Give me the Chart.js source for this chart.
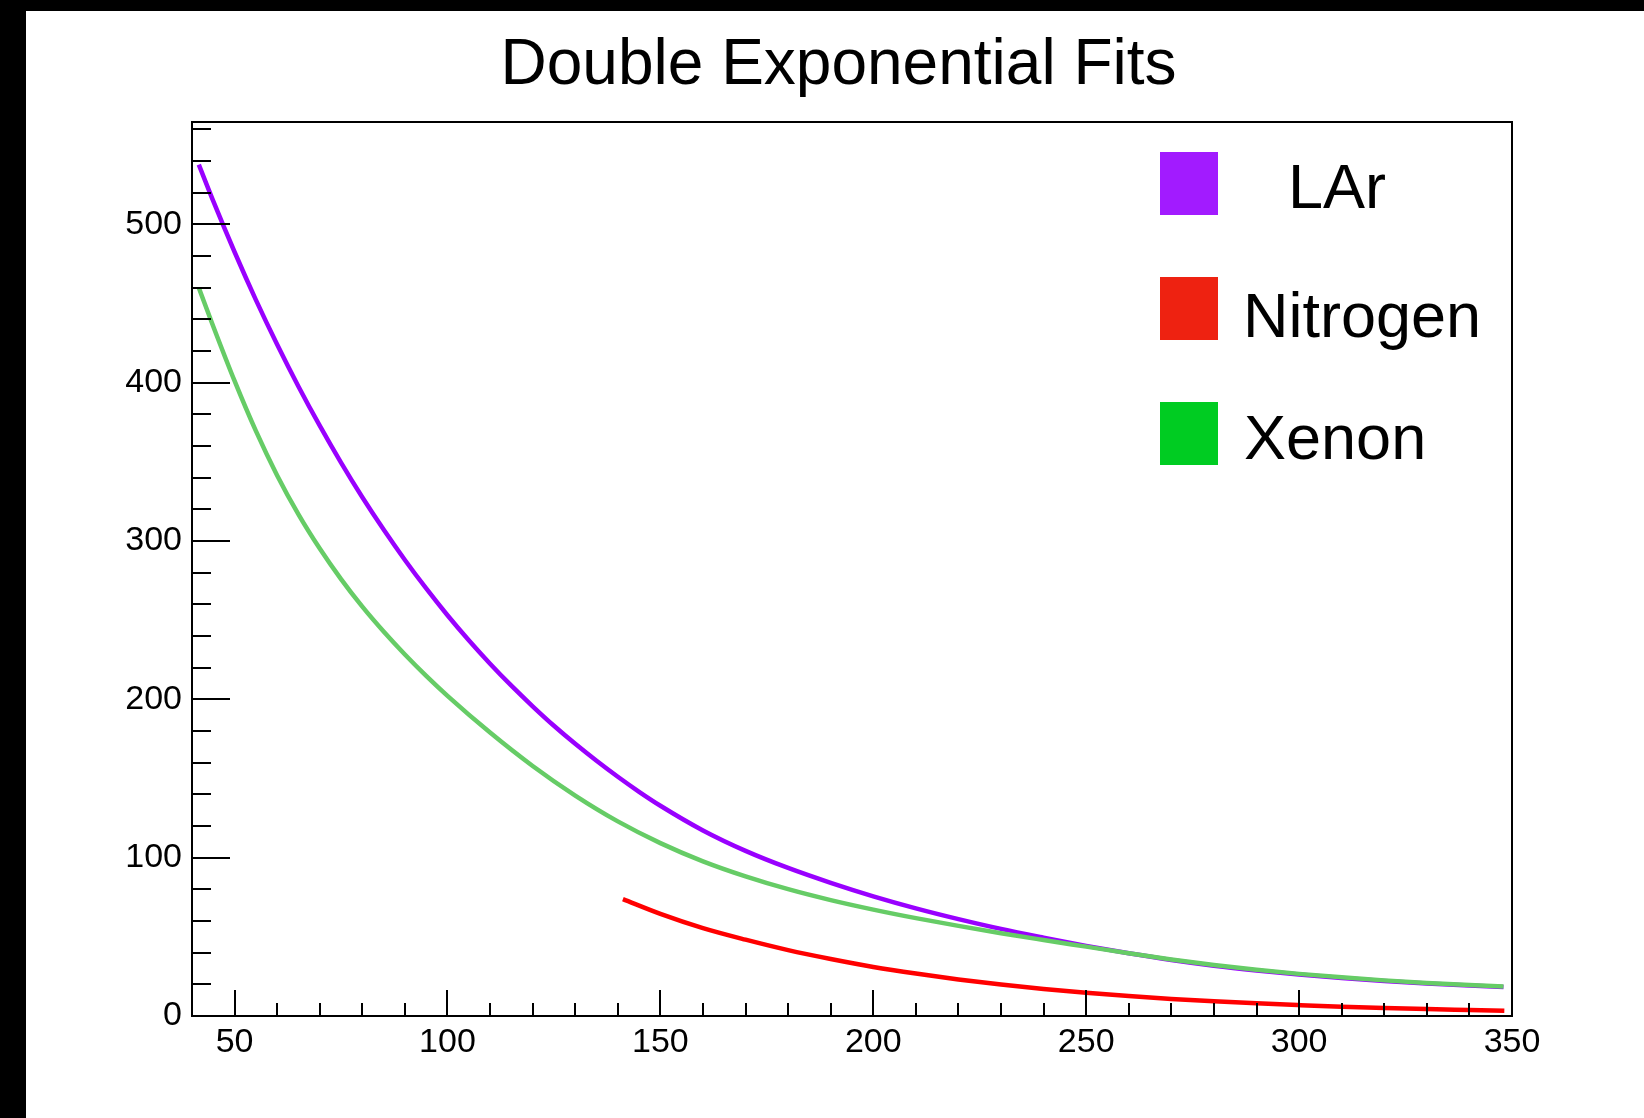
<!DOCTYPE html>
<html><head><meta charset="utf-8">
<script src="https://cdn.jsdelivr.net/npm/chart.js@4.4.0/dist/chart.umd.min.js"></script>
<style>html,body{margin:0;padding:0;background:#fff;overflow:hidden}</style>
</head><body><canvas id="c" width="1644" height="1118"></canvas>
<script>
const chartTitle = 'Double Exponential Fits';
const seriesNames = ['LAr', 'Nitrogen', 'Xenon'];
const lineColors = ['#9900ff', '#ff0000', '#66cc66'];
const legendColors = ['#a21bff', '#ee2211', '#00cc22'];

const xLAr = [41.6, 45, 50, 55, 60, 65, 70, 75, 80, 85, 90, 95, 100, 105, 110, 115, 120, 125, 130, 135, 140, 145, 150, 160, 170, 180, 190, 200, 210, 220, 230, 240, 250, 260, 270, 280, 290, 300, 310, 320, 330, 340, 348];
const yLAr = [537.7, 514.6, 482.5, 452.3, 424.1, 397.6, 372.8, 349.5, 327.6, 307.2, 288.0, 270.0, 253.1, 237.3, 222.5, 208.6, 195.6, 183.3, 171.9, 161.2, 151.1, 141.6, 132.8, 117.2, 104.3, 93.5, 84.1, 75.6, 68.0, 61.2, 55.0, 49.5, 44.3, 39.6, 35.4, 31.8, 28.8, 26.2, 24.0, 22.1, 20.5, 19.2, 18.3];

const xNitrogen = [141.2, 150, 160, 170, 180, 190, 200, 210, 220, 230, 240, 250, 260, 270, 280, 290, 300, 310, 320, 330, 340, 348.2];
const yNitrogen = [73.8, 64.5, 55.5, 48.2, 41.6, 36.0, 31.0, 26.8, 23.1, 19.9, 17.1, 14.7, 12.6, 10.8, 9.3, 8.0, 6.9, 5.9, 5.1, 4.4, 3.8, 3.3];

const xXenon = [41.6, 45, 50, 55, 60, 65, 70, 75, 80, 85, 90, 95, 100, 110, 120, 130, 140, 150, 160, 170, 180, 190, 200, 210, 220, 230, 240, 250, 260, 270, 280, 290, 300, 310, 320, 330, 340, 348];
const yXenon = [459.9, 435.5, 401.1, 369.5, 341.4, 316.8, 295.2, 275.9, 258.5, 242.8, 228.3, 214.8, 202.2, 179.0, 157.9, 139.2, 122.9, 109.2, 97.7, 88.2, 80.1, 73.2, 67.2, 61.8, 56.9, 52.3, 48.0, 43.8, 39.6, 35.7, 32.2, 29.2, 26.6, 24.4, 22.5, 20.9, 19.6, 18.7];

const xTickLabels = [50, 100, 150, 200, 250, 300, 350];
const yTickLabels = [0, 100, 200, 300, 400, 500];
const xRange = [40, 350];
const yRange = [0, 564.6];

const FONT = "'Liberation Sans', Arial, Helvetica, sans-serif";

function pts(xs, ys) { return xs.map((x, i) => ({ x: x, y: ys[i] })); }

const framePlugin = {
  id: 'frame',
  beforeDraw(chart) {
    const ctx = chart.ctx;
    ctx.save();
    ctx.fillStyle = '#fff';
    ctx.fillRect(0, 0, chart.width, chart.height);
    ctx.fillStyle = '#000';
    ctx.fillRect(0, 0, 26, chart.height);
    ctx.fillRect(0, 0, chart.width, 11);
    ctx.restore();
  },
  afterDatasetsDraw(chart) {
    const ctx = chart.ctx, a = chart.chartArea;
    const xs = chart.scales.x, ys = chart.scales.y;
    ctx.save();
    ctx.strokeStyle = '#000';
    ctx.lineWidth = 2;
    ctx.strokeRect(a.left, a.top, a.right - a.left, a.bottom - a.top);
    ctx.beginPath();
    for (let v = 50; v < 350; v += 10) {
      const px = Math.round(xs.getPixelForValue(v));
      const len = (v % 50 === 0) ? 26 : 13;
      ctx.moveTo(px, a.bottom);
      ctx.lineTo(px, a.bottom - len);
    }
    for (let v = 20; v <= 560; v += 20) {
      const py = Math.round(ys.getPixelForValue(v));
      const len = (v % 100 === 0) ? 38 : 19;
      ctx.moveTo(a.left, py);
      ctx.lineTo(a.left + len, py);
    }
    ctx.stroke();
    // title
    ctx.fillStyle = '#000';
    ctx.font = '64px ' + FONT;
    ctx.textAlign = 'center';
    ctx.textBaseline = 'alphabetic';
    ctx.fillText(chartTitle, 838.5, 83.5);
    // legend
    ctx.font = '63px ' + FONT;
    const boxTop = [152, 277, 402];
    const textX = [1288, 1243, 1244];
    const baseY = [207.5, 336.5, 458.5];
    ctx.textAlign = 'left';
    chart.data.datasets.forEach((ds, i) => {
      ctx.fillStyle = legendColors[i];
      ctx.fillRect(1160, boxTop[i], 58, 63);
      ctx.fillStyle = '#000';
      ctx.fillText(ds.label, textX[i], baseY[i]);
    });
    ctx.restore();
  }
};

new Chart(document.getElementById('c'), {
  type: 'line',
  data: {
    datasets: [
      { label: seriesNames[0], data: pts(xLAr, yLAr), borderColor: lineColors[0], order: 3 },
      { label: seriesNames[1], data: pts(xNitrogen, yNitrogen), borderColor: lineColors[1], order: 2 },
      { label: seriesNames[2], data: pts(xXenon, yXenon), borderColor: lineColors[2], order: 1 }
    ]
  },
  options: {
    responsive: false,
    animation: false,
    devicePixelRatio: 1,
    layout: { padding: { left: 0, top: 122, right: 132, bottom: 0 } },
    plugins: { legend: { display: false }, tooltip: { enabled: false }, title: { display: false } },
    elements: { point: { radius: 0 }, line: { borderWidth: 4.5, cubicInterpolationMode: 'monotone', fill: false } },
    scales: {
      x: {
        type: 'linear', min: xRange[0], max: xRange[1],
        afterFit: s => { s.height = 102; },
        afterBuildTicks: a => { a.ticks = xTickLabels.map(v => ({ value: v })); },
        grid: { display: false, drawTicks: false },
        border: { display: false },
        ticks: { font: { family: FONT, size: 34 }, color: '#000', padding: 6, maxRotation: 0, autoSkip: false }
      },
      y: {
        type: 'linear', min: yRange[0], max: yRange[1],
        afterFit: s => { s.width = 192; },
        afterBuildTicks: a => { a.ticks = yTickLabels.map(v => ({ value: v })); },
        grid: { display: false, drawTicks: false },
        border: { display: false },
        ticks: { font: { family: FONT, size: 34 }, color: '#000', padding: 10, autoSkip: false }
      }
    }
  },
  plugins: [framePlugin]
});
</script></body></html>
